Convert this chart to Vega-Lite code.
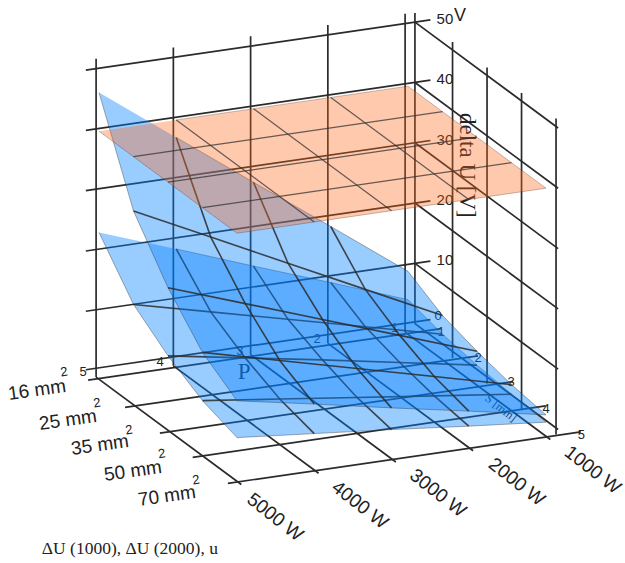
{"$schema":"https://vega.github.io/schema/vega-lite/v6.json","width":625,"height":563,"autosize":{"type":"fit","contains":"padding"},"padding":0,"background":"white","config":{"view":{"stroke":null}},
"data":{"values":[
{"k":"grid","id":"zb0","n":0,"power":5130,"slot":-0.09,"volts":0.3},{"k":"grid","id":"zb0","n":1,"power":670,"slot":-0.09,"volts":0.3},
{"k":"grid","id":"zb10","n":0,"power":5130,"slot":-0.09,"volts":10},{"k":"grid","id":"zb10","n":1,"power":670,"slot":-0.09,"volts":10},
{"k":"grid","id":"zb20","n":0,"power":5130,"slot":-0.09,"volts":20},{"k":"grid","id":"zb20","n":1,"power":670,"slot":-0.09,"volts":20},
{"k":"grid","id":"zb30","n":0,"power":5130,"slot":-0.09,"volts":30},{"k":"grid","id":"zb30","n":1,"power":670,"slot":-0.09,"volts":30},
{"k":"grid","id":"zb40","n":0,"power":5130,"slot":-0.09,"volts":40},{"k":"grid","id":"zb40","n":1,"power":670,"slot":-0.09,"volts":40},
{"k":"grid","id":"zb50","n":0,"power":5130,"slot":-0.09,"volts":50},{"k":"grid","id":"zb50","n":1,"power":670,"slot":-0.09,"volts":50},
{"k":"grid","id":"zr0","n":0,"power":870,"slot":-0.09,"volts":0},{"k":"grid","id":"zr0","n":1,"power":870,"slot":4.06,"volts":0},
{"k":"grid","id":"zr10","n":0,"power":870,"slot":-0.09,"volts":10},{"k":"grid","id":"zr10","n":1,"power":870,"slot":4.06,"volts":10},
{"k":"grid","id":"zr20","n":0,"power":870,"slot":-0.09,"volts":20},{"k":"grid","id":"zr20","n":1,"power":870,"slot":4.06,"volts":20},
{"k":"grid","id":"zr30","n":0,"power":870,"slot":-0.09,"volts":30},{"k":"grid","id":"zr30","n":1,"power":870,"slot":4.06,"volts":30},
{"k":"grid","id":"zr40","n":0,"power":870,"slot":-0.09,"volts":40},{"k":"grid","id":"zr40","n":1,"power":870,"slot":4.06,"volts":40},
{"k":"grid","id":"zr50","n":0,"power":870,"slot":-0.09,"volts":50},{"k":"grid","id":"zr50","n":1,"power":870,"slot":4.06,"volts":50},
{"k":"grid","id":"vb0","n":0,"power":5100,"slot":0.14,"volts":0},{"k":"grid","id":"vb0","n":1,"power":5100,"slot":0.14,"volts":52.8},
{"k":"grid","id":"vb1","n":0,"power":4100,"slot":0.14,"volts":0},{"k":"grid","id":"vb1","n":1,"power":4100,"slot":0.14,"volts":52.8},
{"k":"grid","id":"vb2","n":0,"power":3100,"slot":0.14,"volts":0},{"k":"grid","id":"vb2","n":1,"power":3100,"slot":0.14,"volts":52.8},
{"k":"grid","id":"vb3","n":0,"power":2100,"slot":0.14,"volts":0},{"k":"grid","id":"vb3","n":1,"power":2100,"slot":0.14,"volts":52.8},
{"k":"grid","id":"vb4","n":0,"power":1100,"slot":0.14,"volts":0},{"k":"grid","id":"vb4","n":1,"power":1100,"slot":0.14,"volts":52.8},
{"k":"grid","id":"vc","n":0,"power":870,"slot":-0.09,"volts":0},{"k":"grid","id":"vc","n":1,"power":870,"slot":-0.09,"volts":51.5},
{"k":"grid","id":"vr1","n":0,"power":870,"slot":1,"volts":-1.1},{"k":"grid","id":"vr1","n":1,"power":870,"slot":1,"volts":51.3},
{"k":"grid","id":"vr2","n":0,"power":870,"slot":2,"volts":-1.1},{"k":"grid","id":"vr2","n":1,"power":870,"slot":2,"volts":51.3},
{"k":"grid","id":"vr3","n":0,"power":870,"slot":3,"volts":-1.1},{"k":"grid","id":"vr3","n":1,"power":870,"slot":3,"volts":51.3},
{"k":"grid","id":"vr4","n":0,"power":870,"slot":4,"volts":-1.1},{"k":"grid","id":"vr4","n":1,"power":870,"slot":4,"volts":51.3},
{"k":"grid","id":"fs0","n":0,"power":5230,"slot":0.2,"volts":0},{"k":"grid","id":"fs0","n":1,"power":660,"slot":0.2,"volts":0},
{"k":"grid","id":"fs1","n":0,"power":5230,"slot":1.27,"volts":0},{"k":"grid","id":"fs1","n":1,"power":660,"slot":1.27,"volts":0},
{"k":"grid","id":"fs2","n":0,"power":5230,"slot":2.28,"volts":0},{"k":"grid","id":"fs2","n":1,"power":660,"slot":2.28,"volts":0},
{"k":"grid","id":"fs3","n":0,"power":5230,"slot":3.23,"volts":0},{"k":"grid","id":"fs3","n":1,"power":660,"slot":3.23,"volts":0},
{"k":"grid","id":"fs4","n":0,"power":5230,"slot":4.25,"volts":0},{"k":"grid","id":"fs4","n":1,"power":660,"slot":4.25,"volts":0},
{"k":"grid","id":"fp0","n":0,"power":5100,"slot":0.14,"volts":0},{"k":"grid","id":"fp0","n":1,"power":5100,"slot":4.35,"volts":0},
{"k":"grid","id":"fp1","n":0,"power":4100,"slot":0.14,"volts":0},{"k":"grid","id":"fp1","n":1,"power":4100,"slot":4.35,"volts":0},
{"k":"grid","id":"fp2","n":0,"power":3100,"slot":0.14,"volts":0},{"k":"grid","id":"fp2","n":1,"power":3100,"slot":4.35,"volts":0},
{"k":"grid","id":"fp3","n":0,"power":2100,"slot":0.14,"volts":0},{"k":"grid","id":"fp3","n":1,"power":2100,"slot":4.35,"volts":0},
{"k":"grid","id":"fp4","n":0,"power":1100,"slot":0.14,"volts":0},{"k":"grid","id":"fp4","n":1,"power":1100,"slot":4.35,"volts":0},

{"k":"A","power":5000,"slot":0,"volts":46.4,"edge":0},{"k":"A","power":5000,"slot":1,"volts":31,"edge":1},{"k":"A","power":5000,"slot":2,"volts":22.5,"edge":2},{"k":"A","power":5000,"slot":3,"volts":16,"edge":3},{"k":"A","power":5000,"slot":4,"volts":12.2,"edge":4},
{"k":"A","power":4000,"slot":0,"volts":37.1,"edge":15},{"k":"A","power":4000,"slot":1,"volts":24.8},{"k":"A","power":4000,"slot":2,"volts":18},{"k":"A","power":4000,"slot":3,"volts":12.8},{"k":"A","power":4000,"slot":4,"volts":9.8,"edge":5},
{"k":"A","power":3000,"slot":0,"volts":27.8,"edge":14},{"k":"A","power":3000,"slot":1,"volts":18.6},{"k":"A","power":3000,"slot":2,"volts":13.5},{"k":"A","power":3000,"slot":3,"volts":9.6},{"k":"A","power":3000,"slot":4,"volts":7.3,"edge":6},
{"k":"A","power":2000,"slot":0,"volts":18.6,"edge":13},{"k":"A","power":2000,"slot":1,"volts":12.4},{"k":"A","power":2000,"slot":2,"volts":9},{"k":"A","power":2000,"slot":3,"volts":6.4},{"k":"A","power":2000,"slot":4,"volts":4.9,"edge":7},
{"k":"A","power":1000,"slot":0,"volts":9.3,"edge":12},{"k":"A","power":1000,"slot":1,"volts":6.2,"edge":11},{"k":"A","power":1000,"slot":2,"volts":4.5,"edge":10},{"k":"A","power":1000,"slot":3,"volts":3.2,"edge":9},{"k":"A","power":1000,"slot":4,"volts":2.4,"edge":8},

{"k":"B","power":5000,"slot":0,"volts":23.2,"edge":0},{"k":"B","power":5000,"slot":1,"volts":15.5,"edge":1},{"k":"B","power":5000,"slot":2,"volts":11.2,"edge":2},{"k":"B","power":5000,"slot":3,"volts":8,"edge":3},{"k":"B","power":5000,"slot":4,"volts":6.1,"edge":4},
{"k":"B","power":4000,"slot":0,"volts":18.6,"edge":15},{"k":"B","power":4000,"slot":1,"volts":12.4},{"k":"B","power":4000,"slot":2,"volts":9},{"k":"B","power":4000,"slot":3,"volts":6.4},{"k":"B","power":4000,"slot":4,"volts":4.9,"edge":5},
{"k":"B","power":3000,"slot":0,"volts":13.9,"edge":14},{"k":"B","power":3000,"slot":1,"volts":9.3},{"k":"B","power":3000,"slot":2,"volts":6.8},{"k":"B","power":3000,"slot":3,"volts":4.8},{"k":"B","power":3000,"slot":4,"volts":3.7,"edge":6},
{"k":"B","power":2000,"slot":0,"volts":9.3,"edge":13},{"k":"B","power":2000,"slot":1,"volts":6.2},{"k":"B","power":2000,"slot":2,"volts":4.5},{"k":"B","power":2000,"slot":3,"volts":3.2},{"k":"B","power":2000,"slot":4,"volts":2.4,"edge":7},
{"k":"B","power":1000,"slot":0,"volts":4.6,"edge":12},{"k":"B","power":1000,"slot":1,"volts":3.1,"edge":11},{"k":"B","power":1000,"slot":2,"volts":2.2,"edge":10},{"k":"B","power":1000,"slot":3,"volts":1.6,"edge":9},{"k":"B","power":1000,"slot":4,"volts":1.2,"edge":8},

{"k":"U","power":5000,"slot":0,"volts":40,"edge":0},{"k":"U","power":5000,"slot":1,"volts":40,"edge":1},{"k":"U","power":5000,"slot":2,"volts":40,"edge":2},{"k":"U","power":5000,"slot":3,"volts":40,"edge":3},{"k":"U","power":5000,"slot":4,"volts":40,"edge":4},
{"k":"U","power":4000,"slot":0,"volts":40,"edge":15},{"k":"U","power":4000,"slot":1,"volts":40},{"k":"U","power":4000,"slot":2,"volts":40},{"k":"U","power":4000,"slot":3,"volts":40},{"k":"U","power":4000,"slot":4,"volts":40,"edge":5},
{"k":"U","power":3000,"slot":0,"volts":40,"edge":14},{"k":"U","power":3000,"slot":1,"volts":40},{"k":"U","power":3000,"slot":2,"volts":40},{"k":"U","power":3000,"slot":3,"volts":40},{"k":"U","power":3000,"slot":4,"volts":40,"edge":6},
{"k":"U","power":2000,"slot":0,"volts":40,"edge":13},{"k":"U","power":2000,"slot":1,"volts":40},{"k":"U","power":2000,"slot":2,"volts":40},{"k":"U","power":2000,"slot":3,"volts":40},{"k":"U","power":2000,"slot":4,"volts":40,"edge":7},
{"k":"U","power":1000,"slot":0,"volts":40,"edge":12},{"k":"U","power":1000,"slot":1,"volts":40,"edge":11},{"k":"U","power":1000,"slot":2,"volts":40,"edge":10},{"k":"U","power":1000,"slot":3,"volts":40,"edge":9},{"k":"U","power":1000,"slot":4,"volts":40,"edge":8},

{"k":"sec","t":"16 mm","power":5928,"slot":0.28,"volts":0},{"k":"sec","t":"25 mm","power":6032,"slot":1.41,"volts":0},{"k":"sec","t":"35 mm","power":6051,"slot":2.38,"volts":0},{"k":"sec","t":"50 mm","power":6075,"slot":3.39,"volts":0},{"k":"sec","t":"70 mm","power":6073,"slot":4.37,"volts":0},
{"k":"sup","t":"2","power":5373,"slot":-0.18,"volts":0},{"k":"sup","t":"2","power":5469,"slot":0.99,"volts":0},{"k":"sup","t":"2","power":5518,"slot":2.03,"volts":0},{"k":"sup","t":"2","power":5513,"slot":2.97,"volts":0},{"k":"sup","t":"2","power":5525,"slot":3.99,"volts":0},
{"k":"pow","t":"5000 W","power":5212,"slot":5.58,"volts":0},{"k":"pow","t":"4000 W","power":4118,"slot":5.59,"volts":0},{"k":"pow","t":"3000 W","power":3099,"slot":5.57,"volts":0},{"k":"pow","t":"2000 W","power":2083,"slot":5.58,"volts":0},{"k":"pow","t":"1000 W","power":1086,"slot":5.55,"volts":0},
{"k":"zl","t":"50","power":870,"slot":-0.09,"volts":50},{"k":"zl","t":"40","power":870,"slot":-0.09,"volts":40},{"k":"zl","t":"30","power":870,"slot":-0.09,"volts":30},{"k":"zl","t":"20","power":870,"slot":-0.09,"volts":20},{"k":"zl","t":"10","power":870,"slot":-0.09,"volts":10},
{"k":"unit","t":"V","power":870,"slot":-0.09,"volts":50},
{"k":"idx","t":"0","power":540,"slot":-0.16,"volts":0.4},{"k":"idx","t":"1","power":710,"slot":0.31,"volts":0},{"k":"idx","t":"2","power":690,"slot":1.34,"volts":0},{"k":"idx","t":"3","power":685,"slot":2.28,"volts":0},{"k":"idx","t":"4","power":700,"slot":3.33,"volts":0},{"k":"idx","t":"5","power":700,"slot":4.35,"volts":0},
{"k":"idx","t":"5","power":5167,"slot":-0.09,"volts":0},{"k":"idx","t":"4","power":4188,"slot":-0.05,"volts":0},{"k":"idx","t":"3","power":3162,"slot":-0.03,"volts":0},{"k":"idx","t":"2","power":2154,"slot":-0.05,"volts":0},{"k":"idx","t":"1","power":1150,"slot":-0.05,"volts":0},
{"k":"P","t":"P","power":3426,"slot":0.68,"volts":0},
{"k":"S","t":"S [mm]","power":1170,"slot":3.08,"volts":0},
{"k":"title","t":"delta U [V]","power":870,"slot":1.41,"volts":32.6},
{"k":"foot","t":"ΔU (1000), ΔU (2000), u","power":7249,"slot":5.93,"volts":0}
]},
"transform":[
{"calculate":"99+77.25*(5000-datum.power)/1000+34.5*datum.slot","as":"sx"},
{"calculate":"372.4-11.25*(5000-datum.power)/1000+25.5*datum.slot-6.03*datum.volts","as":"sy"}
],
"encoding":{
"x":{"field":"sx","type":"quantitative","scale":{"domain":[0,625],"nice":false,"zero":false},"axis":null},
"y":{"field":"sy","type":"quantitative","scale":{"domain":[563,0],"nice":false,"zero":false},"axis":null}
},
"layer":[
{"transform":[{"filter":"datum.k==='grid'"}],"mark":{"type":"line","stroke":"#2b2b2b","strokeWidth":1.7,"clip":false},"encoding":{"detail":{"field":"id"},"order":{"field":"n"}}},
{"transform":[{"filter":"datum.k==='idx'"}],"mark":{"type":"text","font":"Liberation Sans","fontSize":13,"fill":"#222"},"encoding":{"text":{"field":"t"}}},
{"transform":[{"filter":"datum.k==='zl'"}],"mark":{"type":"text","font":"Liberation Sans","fontSize":15,"fill":"#222","dx":30,"dy":-3},"encoding":{"text":{"field":"t"}}},
{"transform":[{"filter":"datum.k==='unit'"}],"mark":{"type":"text","font":"Liberation Sans","fontSize":18,"fill":"#222","dx":45,"dy":-6},"encoding":{"text":{"field":"t"}}},
{"transform":[{"filter":"datum.k==='title'"}],"mark":{"type":"text","font":"Liberation Serif","fontSize":23,"fill":"#222","angle":90},"encoding":{"text":{"field":"t"}}},
{"transform":[{"filter":"datum.k==='P'"}],"mark":{"type":"text","font":"Liberation Serif","fontSize":23,"fill":"#222"},"encoding":{"text":{"field":"t"}}},
{"transform":[{"filter":"datum.k==='S'"}],"mark":{"type":"text","font":"Liberation Serif","fontSize":12,"fill":"#222","angle":38},"encoding":{"text":{"field":"t"}}},
{"transform":[{"filter":"datum.k==='B' && isValid(datum.edge)"}],"mark":{"type":"line","fill":"#0080ff","fillOpacity":0.4,"stroke":"#333","strokeOpacity":0.5,"strokeWidth":0.8},"encoding":{"order":{"field":"edge"}}},
{"transform":[{"filter":"datum.k==='B' && datum.power>1000 && datum.power<5000"}],"mark":{"type":"line","stroke":"#2b2b2b","strokeWidth":1.6,"strokeOpacity":0.85},"encoding":{"detail":{"field":"power"},"order":{"field":"slot"}}},
{"transform":[{"filter":"datum.k==='B' && datum.slot>0 && datum.slot<4"}],"mark":{"type":"line","stroke":"#2b2b2b","strokeWidth":1.6,"strokeOpacity":0.85},"encoding":{"detail":{"field":"slot"},"order":{"field":"power"}}},
{"transform":[{"filter":"datum.k==='A' && isValid(datum.edge)"}],"mark":{"type":"line","fill":"#0080ff","fillOpacity":0.4,"stroke":"#333","strokeOpacity":0.5,"strokeWidth":0.8},"encoding":{"order":{"field":"edge"}}},
{"transform":[{"filter":"datum.k==='A' && datum.power>1000 && datum.power<5000"}],"mark":{"type":"line","stroke":"#2b2b2b","strokeWidth":1.6,"strokeOpacity":0.85},"encoding":{"detail":{"field":"power"},"order":{"field":"slot"}}},
{"transform":[{"filter":"datum.k==='A' && datum.slot>0 && datum.slot<4"}],"mark":{"type":"line","stroke":"#2b2b2b","strokeWidth":1.6,"strokeOpacity":0.85},"encoding":{"detail":{"field":"slot"},"order":{"field":"power"}}},
{"transform":[{"filter":"datum.k==='U' && isValid(datum.edge)"}],"mark":{"type":"line","fill":"#ff6418","fillOpacity":0.35,"stroke":"#553322","strokeOpacity":0.4,"strokeWidth":0.8},"encoding":{"order":{"field":"edge"}}},
{"transform":[{"filter":"datum.k==='U' && datum.power>1000 && datum.power<5000"}],"mark":{"type":"line","stroke":"#333","strokeWidth":1.2,"strokeOpacity":0.75},"encoding":{"detail":{"field":"power"},"order":{"field":"slot"}}},
{"transform":[{"filter":"datum.k==='U' && datum.slot>0 && datum.slot<4"}],"mark":{"type":"line","stroke":"#333","strokeWidth":1.2,"strokeOpacity":0.75},"encoding":{"detail":{"field":"slot"},"order":{"field":"power"}}},
{"transform":[{"filter":"datum.k==='sec'"}],"mark":{"type":"text","font":"Liberation Sans","fontSize":19,"fill":"#222","angle":352},"encoding":{"text":{"field":"t"}}},
{"transform":[{"filter":"datum.k==='sup'"}],"mark":{"type":"text","font":"Liberation Sans","fontSize":13,"fill":"#222","angle":352},"encoding":{"text":{"field":"t"}}},
{"transform":[{"filter":"datum.k==='pow'"}],"mark":{"type":"text","font":"Liberation Sans","fontSize":19,"fill":"#222","angle":38},"encoding":{"text":{"field":"t"}}},
{"transform":[{"filter":"datum.k==='foot'"}],"mark":{"type":"text","font":"Liberation Serif","fontSize":17.5,"fill":"#222"},"encoding":{"text":{"field":"t"}}}
]}
